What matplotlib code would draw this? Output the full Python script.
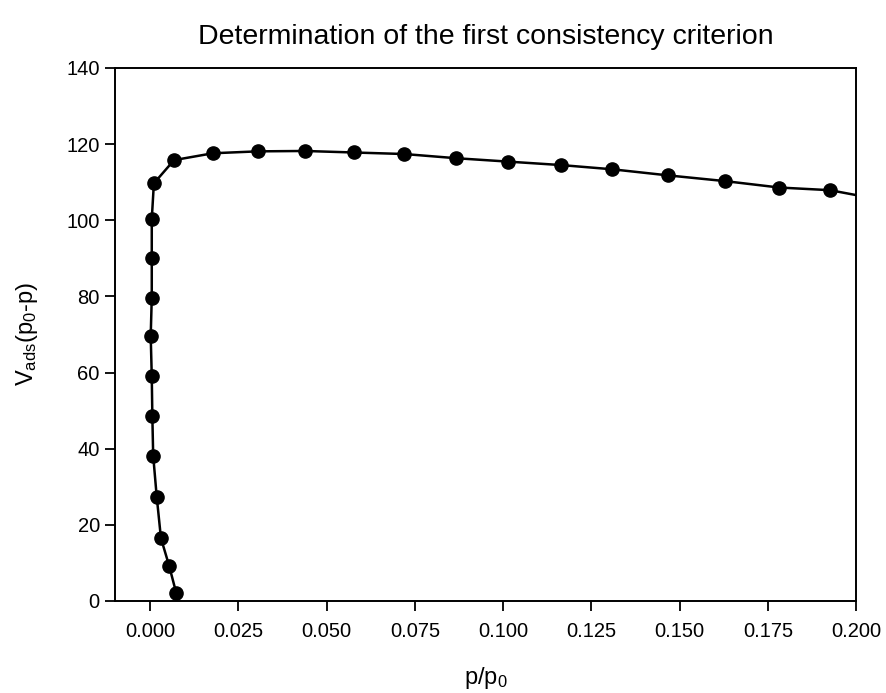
import matplotlib
matplotlib.use("Agg")
import matplotlib.pyplot as plt

plt.rcParams['font.family'] = ['Liberation Sans', 'DejaVu Sans']
plt.rcParams['mathtext.default'] = 'regular'

# relative pressure p/p0
p_rel = [0.0074, 0.0054, 0.0031, 0.0019, 0.0009, 0.00066, 0.0005, 0.0002,
         0.0005, 0.0005, 0.0005, 0.0011, 0.0068, 0.0178, 0.0305, 0.0439,
         0.0578, 0.0720, 0.0867, 0.1015, 0.1164, 0.1308, 0.1466, 0.1627,
         0.1782, 0.1926, 0.2075]
# V_ads (p0 - p)
v_term = [2.2, 9.3, 16.5, 27.4, 38.2, 48.7, 59.0, 69.6, 79.7, 90.0, 100.3,
          109.7, 115.8, 117.6, 118.1, 118.2, 117.8, 117.4, 116.3, 115.4,
          114.5, 113.4, 111.8, 110.3, 108.6, 107.9, 105.3]

fig = plt.figure(figsize=(8.87, 6.93), dpi=100)
ax = fig.add_axes([0.1297, 0.1328, 0.8356, 0.7691])

ax.plot(p_rel, v_term, color='black', lw=1.8, marker='o', ms=9.5,
        markeredgecolor='black', markerfacecolor='black')

ax.set_xlim(-0.0099, 0.2)
ax.set_ylim(0, 140)
ax.set_xticks([0.0, 0.025, 0.05, 0.075, 0.1, 0.125, 0.15, 0.175, 0.2])
ax.set_xticklabels(['0.000', '0.025', '0.050', '0.075', '0.100', '0.125',
                    '0.150', '0.175', '0.200'])
ax.set_yticks(range(0, 141, 20))
ax.tick_params(direction='out', length=7, width=1.3, labelsize=14.5)
ax.tick_params(axis='x', pad=8.5)
ax.tick_params(axis='y', pad=4)
for s in ax.spines.values():
    s.set_linewidth(1.4)

ax.set_xlabel('p/p$_0$', fontsize=17, labelpad=17)
ax.set_ylabel('V$_{ads}$(p$_0$-p)', fontsize=17, labelpad=19)
ax.set_title('Determination of the first consistency criterion', fontsize=20.5, pad=17)

fig.savefig('out.png', dpi=100)
